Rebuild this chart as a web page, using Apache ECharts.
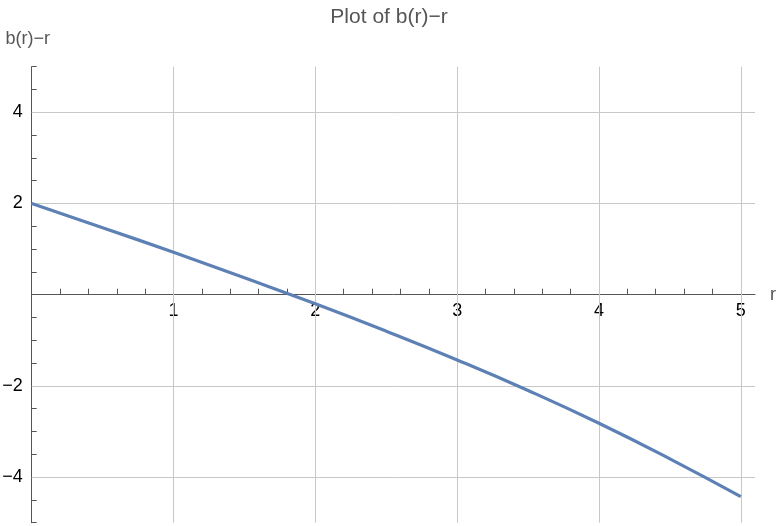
<!DOCTYPE html>
<html>
<head>
<meta charset="utf-8">
<script src="https://cdn.jsdelivr.net/npm/echarts@6/dist/echarts.min.js"></script>
<style>
  html, body { margin: 0; padding: 0; background: #fff; }
  #chart { width: 778px; height: 526px; }
</style>
</head>
<body>
<div id="chart"></div>
<script>
// values
const rValues = [0, 0.5, 1, 1.5, 2, 2.5, 3, 3.5, 4, 4.5, 5];
const diffValues = [2.0, 1.47, 0.93, 0.37, -0.20, -0.80, -1.43, -2.10, -2.82, -3.60, -4.43];

// labelled ticks / grid lines
const xLabelTicks = [1, 2, 3, 4, 5];
const yLabelTicks = [-4, -2, 2, 4];

const fontFamily = '"Liberation Sans", Arial, sans-serif';

const gridTop = 66.7, gridBottom = 3.3;
const plotHeight = 526 - gridTop - gridBottom;

function fmtNum(v) {
  const r = Math.round(v);
  return r < 0 ? '\u2212' + (-r) : String(r);
}
function isIn(list, v) {
  return list.some(t => Math.abs(t - v) < 1e-6);
}

const chart = echarts.init(document.getElementById('chart'));

const gridLines = xLabelTicks.map(v => ({ xAxis: v }))
  .concat(yLabelTicks.map(v => ({ yAxis: v })));

const option = {
  animation: false,
  title: {
    text: 'Plot of b(r)\u2212r',
    left: 'center',
    top: 2,
    textStyle: { fontFamily, fontSize: 21, fontWeight: 'normal', color: '#555' }
  },
  grid: {
    left: 31.7, right: 23, top: gridTop, bottom: gridBottom,
    containLabel: false, outerBoundsMode: 'none'
  },
  xAxis: {
    type: 'value',
    min: 0,
    max: 5.1,
    interval: 0.2,
    // y range is symmetric (-5..5), so the zero line sits mid-height
    offset: -plotHeight / 2,
    name: 'r',
    nameLocation: 'end',
    nameGap: 15,
    nameTextStyle: { fontFamily, fontSize: 18, color: '#555' },
    axisLine: { onZero: false, lineStyle: { color: '#555', width: 1 } },
    axisTick: { show: true, inside: true, length: 6, lineStyle: { color: '#555' } },
    axisLabel: {
      fontFamily, fontSize: 18, color: '#000', margin: 7,
      showMinLabel: false, showMaxLabel: false,
      formatter: v => isIn(xLabelTicks, v) ? fmtNum(v) : ''
    },
    splitLine: { show: false }
  },
  yAxis: {
    type: 'value',
    min: -5,
    max: 5,
    interval: 0.5,
    name: 'b(r)\u2212r',
    nameLocation: 'end',
    nameGap: 19,
    nameTextStyle: { fontFamily, fontSize: 18, color: '#555', padding: [0, 8, 0, 0] },
    axisLine: { show: true, onZero: false, lineStyle: { color: '#555', width: 1 } },
    axisTick: { show: true, inside: true, length: 5, lineStyle: { color: '#555' } },
    axisLabel: {
      fontFamily, fontSize: 18, color: '#000', margin: 9,
      formatter: v => isIn(yLabelTicks, v) ? fmtNum(v) : ''
    },
    splitLine: { show: false }
  },
  series: [{
    type: 'line',
    data: rValues.map((r, i) => [r, diffValues[i]]),
    smooth: true,
    showSymbol: false,
    lineStyle: { color: '#5e81b5', width: 3.2 },
    z: 3,
    markLine: {
      silent: true,
      symbol: 'none',
      z: 1,
      label: { show: false },
      lineStyle: { color: '#c8c8c8', type: 'solid', width: 1 },
      emphasis: { disabled: true },
      data: gridLines
    }
  }]
};

chart.setOption(option);
</script>
</body>
</html>
